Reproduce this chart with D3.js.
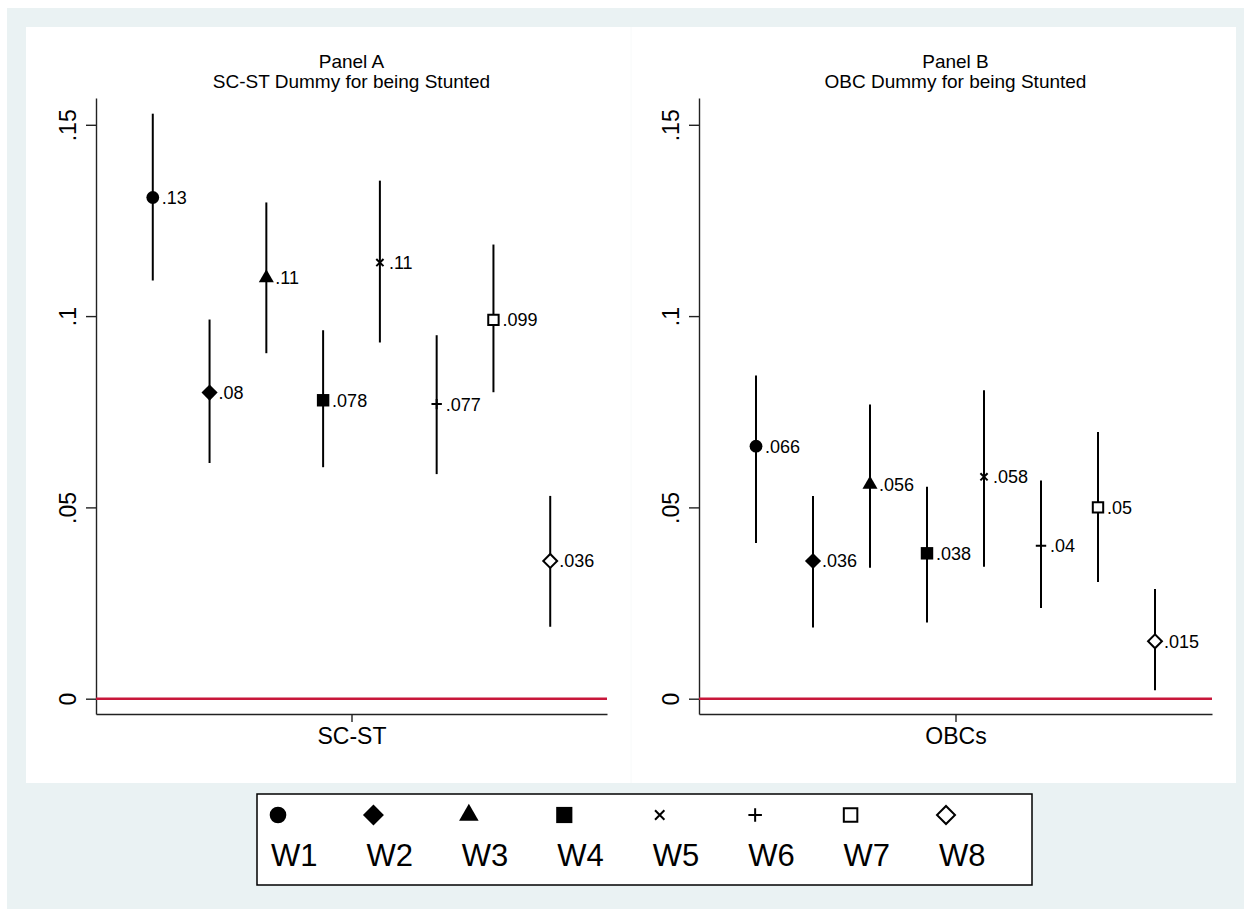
<!DOCTYPE html>
<html>
<head>
<meta charset="utf-8">
<script src="https://cdn.jsdelivr.net/npm/d3@7"></script>
<style>
  body { margin: 0; background: #fff; }
  svg { display: block; font-family: Arial, "Liberation Sans", Helvetica, sans-serif; }
</style>
</head>
<body>
<svg id="chart" width="1244" height="909"></svg>
<script>
// Survey waves and the marker used for each
const waves = ["W1", "W2", "W3", "W4", "W5", "W6", "W7", "W8"];
const markerTypes = ["circle", "diamond", "triangle", "square", "x", "plus", "squareHollow", "diamondHollow"];

// Panel A: SC-ST coefficient with 95% CI per wave
const scstEst = [0.131, 0.080, 0.110, 0.078, 0.114, 0.077, 0.099, 0.036];
const scstLo  = [0.1093, 0.0616, 0.0903, 0.0605, 0.0931, 0.0587, 0.0801, 0.0188];
const scstHi  = [0.1529, 0.0991, 0.1297, 0.0963, 0.1354, 0.0950, 0.1187, 0.0530];

// Panel B: OBC coefficient with 95% CI per wave
const obcEst = [0.066, 0.036, 0.056, 0.038, 0.058, 0.040, 0.050, 0.015];
const obcLo  = [0.0407, 0.0186, 0.0342, 0.0199, 0.0345, 0.0237, 0.0305, 0.0022];
const obcHi  = [0.0845, 0.0530, 0.0769, 0.0554, 0.0806, 0.0570, 0.0697, 0.0287];

const yTicks = [0, 0.05, 0.1, 0.15];

const panels = [
  { title: "Panel A", subtitle: "SC-ST Dummy for being Stunted", group: "SC-ST",
    est: scstEst, lo: scstLo, hi: scstHi, x0: 96, x1: 607 },
  { title: "Panel B", subtitle: "OBC Dummy for being Stunted", group: "OBCs",
    est: obcEst, lo: obcLo, hi: obcHi, x0: 699, x1: 1212 }
];

const svg = d3.select("#chart");
const bg = "#eaf2f3";

// outer graph region and inner white area
svg.append("rect").attr("x", 7).attr("y", 8).attr("width", 1237).attr("height", 901).attr("fill", bg);
svg.append("rect").attr("x", 26).attr("y", 27).attr("width", 1210).attr("height", 756).attr("fill", "#fff");
svg.append("line").attr("x1", 631).attr("x2", 631).attr("y1", 27).attr("y2", 783)
  .attr("stroke", "#f8fafa").attr("stroke-width", 1);

const yTop = 98, yBottom = 714;
const y = d3.scaleLinear().domain([-0.004, 0.157]).range([yBottom, yTop]);
const fmtTick = v => v === 0 ? "0" : d3.format("~g")(v).replace(/^0\./, ".");
const fmtLabel = v => d3.format(".2~r")(v).replace(/^0\./, ".");

// draws one marker shape centred at (0,0)
function drawMarker(g, type, scale = 1) {
  const k = scale;
  switch (type) {
    case "circle":
      g.append("circle").attr("r", 6.4 * k).attr("fill", "#000");
      break;
    case "diamond":
      g.append("path").attr("d", d3.symbol(d3.symbolSquare, 130 * k * k)())
        .attr("transform", "rotate(45)").attr("fill", "#000");
      break;
    case "triangle":
      g.append("path").attr("d", d3.symbol(d3.symbolTriangle, 98 * k * k)()).attr("fill", "#000");
      break;
    case "square":
      g.append("path").attr("d", d3.symbol(d3.symbolSquare, 155 * k * k)()).attr("fill", "#000");
      break;
    case "x": {
      const s = 3.6 * k;
      g.append("path").attr("d", `M${-s},${-s}L${s},${s}M${-s},${s}L${s},${-s}`)
        .attr("stroke", "#000").attr("stroke-width", 2).attr("fill", "none");
      break;
    }
    case "plus": {
      const s = 5.2 * k;
      g.append("path").attr("d", `M${-s},0L${s},0M0,${-s}L0,${s}`)
        .attr("stroke", "#000").attr("stroke-width", 2).attr("fill", "none");
      break;
    }
    case "squareHollow":
      g.append("path").attr("d", d3.symbol(d3.symbolSquare, 108 * k * k)())
        .attr("fill", "#fff").attr("stroke", "#000").attr("stroke-width", 2);
      break;
    case "diamondHollow":
      g.append("path").attr("d", d3.symbol(d3.symbolSquare, 96 * k * k)())
        .attr("transform", "rotate(45)")
        .attr("fill", "#fff").attr("stroke", "#000").attr("stroke-width", 2);
      break;
  }
}

panels.forEach(p => {
  const x = d3.scaleLinear().domain([0, 9]).range([p.x0, p.x1]);
  const g = svg.append("g");

  // titles
  const cx = (p.x0 + p.x1) / 2;
  g.append("text").attr("x", cx).attr("y", 68).attr("text-anchor", "middle")
    .attr("font-size", 19).attr("fill", "#000").text(p.title);
  g.append("text").attr("x", cx).attr("y", 88).attr("text-anchor", "middle")
    .attr("font-size", 19).attr("fill", "#000").text(p.subtitle);

  // y axis
  const yAxis = d3.axisLeft(y).tickValues(yTicks).tickFormat(fmtTick)
    .tickSize(10).tickSizeOuter(0);
  const ya = g.append("g").attr("transform", `translate(${p.x0},0)`).call(yAxis);
  ya.select(".domain").attr("stroke", "#222").attr("stroke-width", 1.4);
  ya.selectAll(".tick line").attr("stroke", "#222").attr("stroke-width", 1.4);
  ya.selectAll(".tick text")
    .attr("transform", "rotate(-90)")
    .attr("x", 0).attr("y", -20).attr("dy", 0)
    .attr("text-anchor", "middle")
    .attr("font-size", 23).attr("fill", "#000")
    .attr("font-family", "Arial, 'Liberation Sans', sans-serif");

  // x axis with a single group tick
  const xAxis = d3.axisBottom(x).tickValues([4.5]).tickFormat(() => p.group)
    .tickSize(8).tickSizeOuter(0);
  const xa = g.append("g").attr("transform", `translate(0,${yBottom})`).call(xAxis);
  xa.select(".domain").attr("stroke", "#222").attr("stroke-width", 1.4);
  xa.selectAll(".tick line").attr("stroke", "#222").attr("stroke-width", 1.4);
  xa.selectAll(".tick text").attr("y", 14).attr("dy", "0.71em")
    .attr("font-size", 23).attr("fill", "#000")
    .attr("font-family", "Arial, 'Liberation Sans', sans-serif");

  // zero reference line
  g.append("line").attr("x1", p.x0).attr("x2", p.x1)
    .attr("y1", y(0)).attr("y2", y(0))
    .attr("stroke", "#c8173a").attr("stroke-width", 2.4);

  // confidence intervals
  g.selectAll(".ci").data(waves).join("line")
    .attr("x1", (d, i) => x(i + 1)).attr("x2", (d, i) => x(i + 1))
    .attr("y1", (d, i) => y(p.lo[i])).attr("y2", (d, i) => y(p.hi[i]))
    .attr("stroke", "#000").attr("stroke-width", 2);

  // point estimates and value labels
  waves.forEach((w, i) => {
    const m = g.append("g").attr("transform", `translate(${x(i + 1)},${y(p.est[i])})`);
    drawMarker(m, markerTypes[i]);
    g.append("text").attr("x", x(i + 1) + 9).attr("y", y(p.est[i]))
      .attr("dy", "0.36em").attr("font-size", 18).attr("fill", "#000")
      .text(fmtLabel(p.est[i]));
  });
});

// legend
const lg = svg.append("g");
lg.append("rect").attr("x", 257).attr("y", 794).attr("width", 775).attr("height", 91)
  .attr("fill", "#fff").attr("stroke", "#000").attr("stroke-width", 1.5);
const lx = d3.scalePoint().domain(waves).range([278, 946]);
waves.forEach((w, i) => {
  const m = lg.append("g").attr("transform", `translate(${lx(w)},815)`);
  drawMarker(m, markerTypes[i], 1.3);
  lg.append("text").attr("x", lx(w) - 7).attr("y", 866)
    .attr("font-size", 31).attr("fill", "#000").text(w);
});
</script>
</body>
</html>
